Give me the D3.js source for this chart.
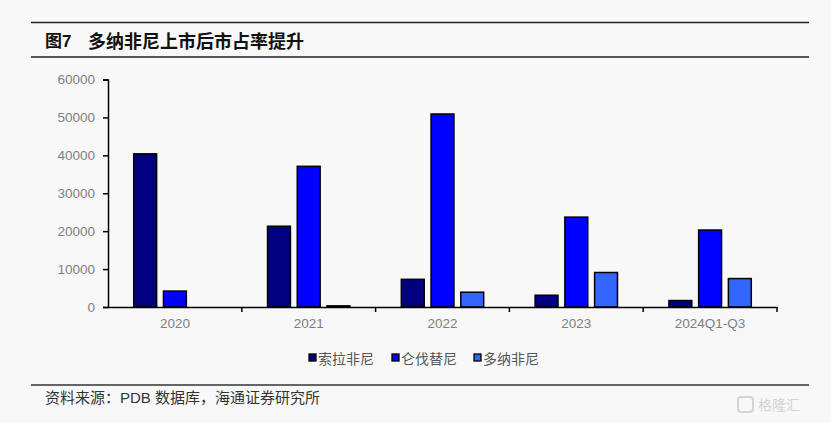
<!DOCTYPE html>
<html><head><meta charset="utf-8">
<script src="https://cdn.jsdelivr.net/npm/d3@7"></script>
<style>
html,body{margin:0;padding:0;background:#f8f8f8;}
svg{display:block;}
</style></head>
<body>
<svg id="chart" width="831" height="423"></svg>
<script>
const categories = ["2020","2021","2022","2023","2024Q1-Q3"];
const seriesNames = ["索拉非尼","仑伐替尼","多纳非尼"];
const sorafenib = [40400, 21300, 7300, 3100, 1700];
const lenvatinib = [4200, 37100, 50900, 23700, 20300];
const donafenib = [0, 300, 3900, 9100, 7500];
const yTicks = [0,10000,20000,30000,40000,50000,60000];
const colors = ["#000080","#0000ff","#3366ff"];
const subtitle = "多纳非尼上市后市占率提升";
const source = "资料来源：PDB 数据库，海通证券研究所";

const series = [sorafenib, lenvatinib, donafenib];
const svg = d3.select("#chart");
const cjk = "'Noto Sans CJK SC', sans-serif";
const latin = "Arial, 'Liberation Sans', sans-serif";

svg.append("rect").attr("width",831).attr("height",423).attr("fill","#f8f8f8");

// header rules
[22.5, 57].forEach(y => svg.append("line").attr("x1",31).attr("x2",809).attr("y1",y).attr("y2",y)
  .attr("stroke","#222").attr("stroke-width",1.6));
const t = svg.append("text").attr("x",45).attr("y",47).attr("font-size",17).attr("font-weight","bold").attr("fill","#111");
t.append("tspan").attr("font-family",cjk).text("图");
t.append("tspan").attr("font-family",latin).text("7");
svg.append("text").attr("x",88).attr("y",47.5).attr("font-size",18).attr("font-weight","bold")
  .attr("font-family",cjk).attr("fill","#111").text(subtitle);

const x0 = d3.scaleBand().domain(categories).range([108,777]).paddingInner(0).paddingOuter(0);
const x1 = d3.scaleBand().domain(d3.range(3)).range([0, x0.bandwidth()]).paddingInner(0.23).paddingOuter(0.865);
const y = d3.scaleLinear().domain([0,60000]).range([307,79.5]);

// bars
series.forEach((vals, si) => {
  svg.append("g").selectAll("rect").data(vals).join("rect")
    .attr("x",(d,i)=>x0(categories[i]) + x1(si))
    .attr("width", x1.bandwidth())
    .attr("y", d=>y(d))
    .attr("height", d=>y(0)-y(d))
    .attr("fill", colors[si])
    .attr("stroke", d => d>0 ? "#000" : "none")
    .attr("stroke-width",1.5);
});

// y axis
const yAxis = svg.append("g").attr("transform","translate(108,0)")
  .call(d3.axisLeft(y).tickValues(yTicks).tickSize(5).tickPadding(8).tickFormat(d3.format("d")));
yAxis.select(".domain").attr("stroke","#000").attr("stroke-width",1.5);
yAxis.selectAll(".tick line").attr("stroke","#000").attr("stroke-width",1.5);
yAxis.selectAll("text").attr("font-family",latin).attr("font-size",13.5).attr("fill","#7f7f7f");

// x axis
const xAxis = svg.append("g").attr("transform","translate(0,307)")
  .call(d3.axisBottom(x0).tickSize(0).tickPadding(11));
xAxis.select(".domain").attr("stroke","#000").attr("stroke-width",1.5);
xAxis.selectAll("text").attr("font-family",latin).attr("font-size",13.5).attr("fill","#7f7f7f");
const bounds = categories.map(c => x0(c)).concat([x0.range()[1]]);
svg.append("g").selectAll("line").data(bounds.slice(1)).join("line")
  .attr("x1",d=>d).attr("x2",d=>d).attr("y1",307).attr("y2",312)
  .attr("stroke","#000").attr("stroke-width",1.5);

// legend
const legendX = [309, 392, 474];
const lg = svg.append("g");
seriesNames.forEach((n,i) => {
  lg.append("rect").attr("x",legendX[i]).attr("y",354).attr("width",7).attr("height",7)
    .attr("fill",colors[i]).attr("stroke","#000").attr("stroke-width",1.3);
  lg.append("text").attr("x",legendX[i]+9).attr("y",363.5).attr("font-family",cjk)
    .attr("font-size",14).attr("fill","#555").text(n);
});

// footer
svg.append("line").attr("x1",31).attr("x2",809).attr("y1",385).attr("y2",385).attr("stroke","#333").attr("stroke-width",1.6);
const ft = svg.append("text").attr("x",45).attr("y",403).attr("font-family",cjk).attr("font-size",15).attr("fill","#333");
ft.append("tspan").text("资料来源：");
ft.append("tspan").attr("font-family",latin).text("PDB ");
ft.append("tspan").text("数据库，海通证券研究所");
svg.append("text").attr("x",758).attr("y",410).attr("font-family",cjk).attr("font-size",14).attr("fill","#d4d4d4").text("格隆汇");
svg.append("rect").attr("x",738).attr("y",397).attr("width",15).attr("height",15).attr("rx",3).attr("fill","none").attr("stroke","#d4d4d4").attr("stroke-width",2);
</script>
</body></html>
